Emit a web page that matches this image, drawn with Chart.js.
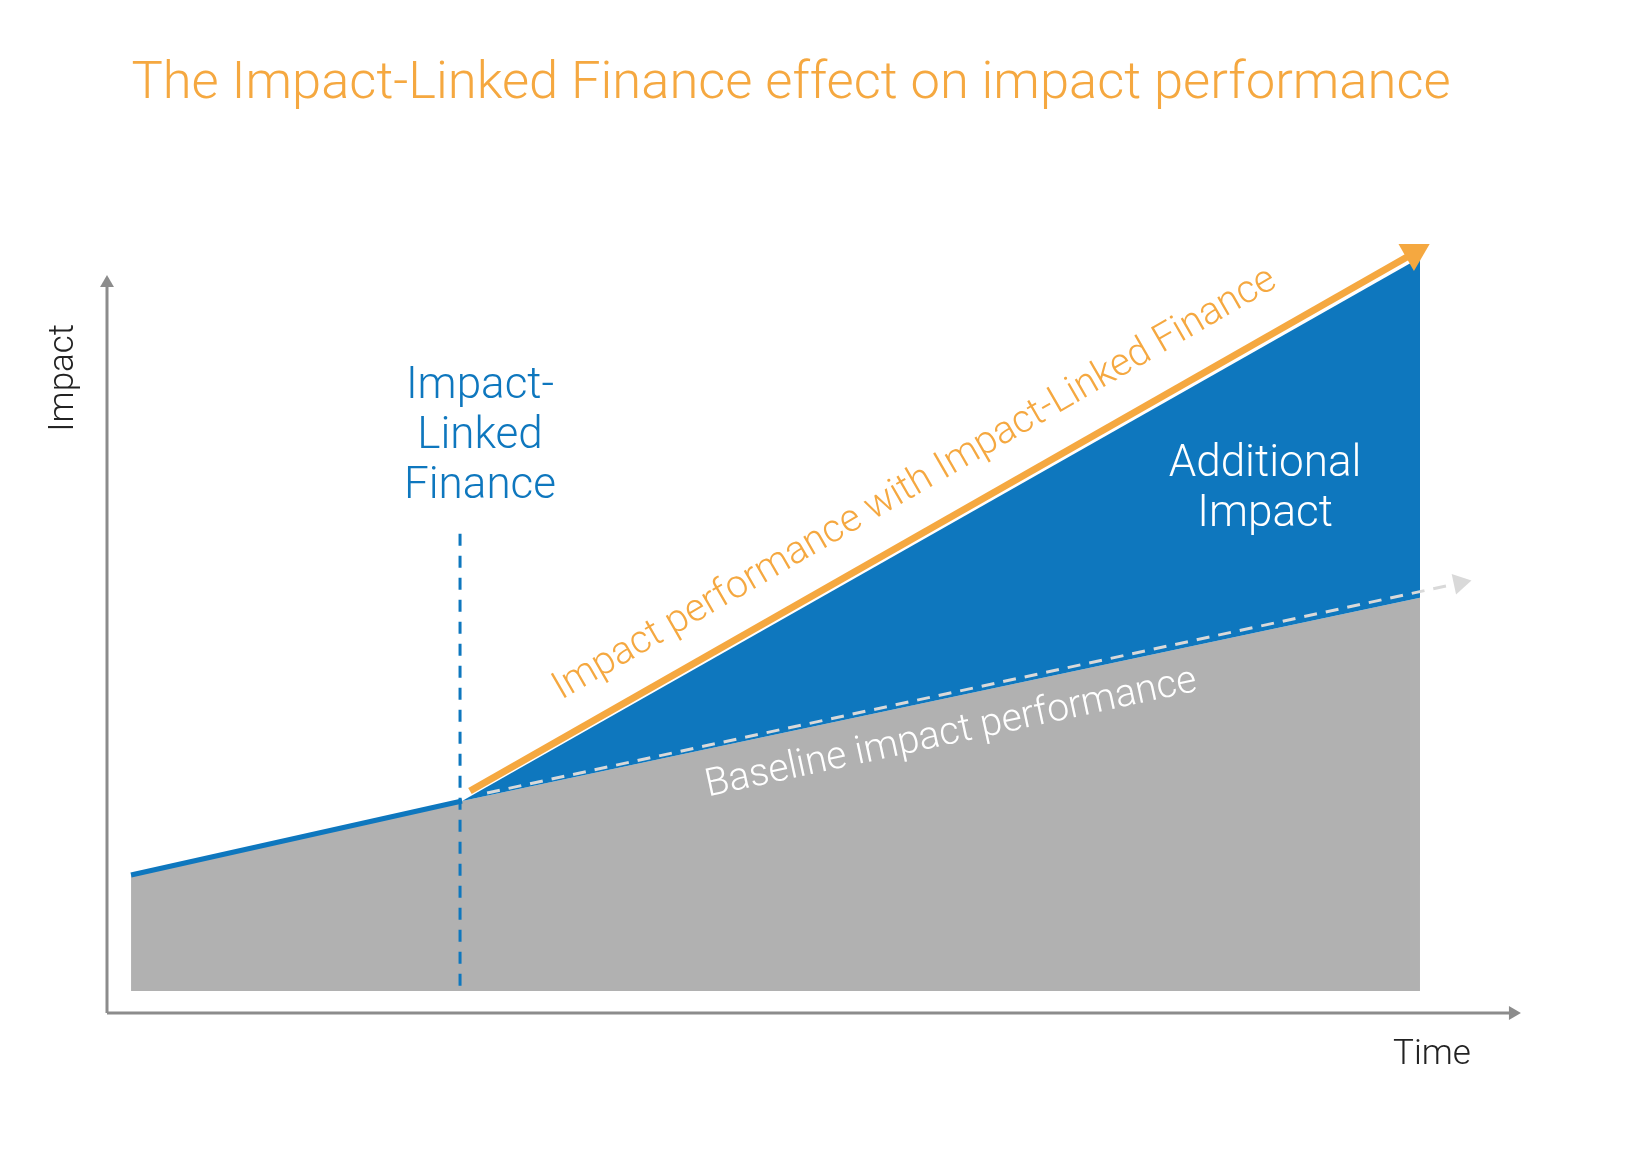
<!DOCTYPE html>
<html>
<head>
<meta charset="utf-8">
<script src="https://cdn.jsdelivr.net/npm/chart.js@4.4.1/dist/chart.umd.min.js"></script>
<style>
  html, body { margin: 0; padding: 0; background: #fff; }
  #wrap { width: 1633px; height: 1158px; position: relative; }
</style>
</head>
<body>
<div id="wrap"><canvas id="chart" width="1633" height="1158"></canvas></div>
<script>
/* ============================================================
   ILF EFFECT DIAGRAM  (time on x, impact on y, 0..100 both)
   ============================================================ */

// baseline impact before/after the finance kicks in
const baseTime   = [1.7, 25.09, 92.79];
const baseImpact = [17.25, 26.5, 51.9];
const baseFloor  = 2.75;

// additional impact wedge (top edge)
const addTime   = [25.09, 92.79];
const addImpact = [26.5, 94.4];

// orange trajectory with ILF
const ilfTime   = [25.65, 92.37];
const ilfImpact = [27.75, 95.0];

// dashed baseline continuation
const trendTime   = [26.86, 95.6];
const trendImpact = [27.5, 53.75];

// moment the finance starts
const startTime   = [24.95, 24.95];
const startImpact = [59.9, 2.9];

// axes
const axisXTime = [0, 99.36], axisXImpact = [0, 0];
const axisYTime = [0, 0],     axisYImpact = [0, 91.25];

const FONT = 'Roboto, Inter, sans-serif';
const C = {
  orange: '#f5a840',
  blue:   '#0e77be',
  grey:   '#b1b1b1',
  axis:   '#8c8c8c',
  trend:  '#d9d9d9',
  text:   '#222222',
};

const pts = (xs, ys) => xs.map((x, i) => ({ x, y: ys[i] }));
// arrow head only on the last point
const lastOnly = (n, v) => Array.from({ length: n }, (_, i) => i === n - 1 ? v : 0);

// text placed in data units
const notes = [
  { lines: ['Impact-', 'Linked', 'Finance'], x: 26.36, y: 76.875, size: 44, color: C.blue, lh: 50 },
  { lines: ['Additional', 'Impact'], x: 81.84, y: 67.125, size: 44, color: '#ffffff', lh: 50 },
  { lines: ['Impact performance with Impact-Linked Finance'], x: 57.45, y: 65.0, size: 39, color: C.orange, rot: -30 },
  { lines: ['Baseline impact performance'], x: 59.8, y: 33.7, size: 39, color: '#ffffff', rot: -12.2 },
  { lines: ['Impact'], x: -2.4, y: 79.4, size: 35, color: C.text, rot: -90 },
  { lines: ['Time'], x: 93.64, y: -6.4, size: 35, color: C.text },
];

const textPlugin = {
  id: 'notes',
  afterDatasetsDraw(chart) {
    const { ctx, scales: { x, y } } = chart;
    ctx.save();
    // title
    ctx.font = `300 52.5px ${FONT}`;
    ctx.fillStyle = C.orange;
    ctx.textAlign = 'center';
    ctx.textBaseline = 'alphabetic';
    ctx.fillText('The Impact-Linked Finance effect on impact performance', 791, 98);

    notes.forEach(n => {
      ctx.save();
      ctx.translate(x.getPixelForValue(n.x), y.getPixelForValue(n.y));
      if (n.rot) ctx.rotate(n.rot * Math.PI / 180);
      ctx.font = `300 ${n.size}px ${FONT}`;
      ctx.fillStyle = n.color;
      ctx.textAlign = 'center';
      ctx.textBaseline = 'alphabetic';
      n.lines.forEach((l, i) => ctx.fillText(l, 0, i * (n.lh || 0)));
      ctx.restore();
    });
    ctx.restore();
  }
};

new Chart(document.getElementById('chart').getContext('2d'), {
  type: 'line',
  data: {
    datasets: [
      { // grey baseline area
        data: pts(baseTime, baseImpact),
        borderWidth: 0, pointRadius: 0,
        backgroundColor: C.grey,
        fill: { value: baseFloor },
        order: 9,
      },
      { // blue additional area
        data: pts(addTime, addImpact),
        borderWidth: 0, pointRadius: 0,
        backgroundColor: C.blue,
        fill: 0,
        order: 8,
      },
      { // blue line up to the ILF start
        data: pts(baseTime.slice(0, 2), baseImpact.slice(0, 2)),
        borderColor: C.blue, borderWidth: 5, pointRadius: 0,
        fill: false, order: 6,
      },
      { // dashed baseline trend
        data: pts(trendTime, trendImpact),
        borderColor: C.trend, borderWidth: 3, borderDash: [13, 9],
        pointStyle: 'triangle',
        pointRadius: lastOnly(2, 12),
        rotation: lastOnly(2, 77.8),
        pointBackgroundColor: C.trend, pointBorderWidth: 0,
        fill: false, order: 7,
      },
      { // vertical dashed marker
        data: pts(startTime, startImpact),
        borderColor: C.blue, borderWidth: 3, borderDash: [12, 10],
        pointRadius: 0, fill: false, order: 5,
      },
      { // orange ILF line
        data: pts(ilfTime, ilfImpact),
        borderColor: C.orange, borderWidth: 7,
        pointStyle: 'triangle',
        pointRadius: lastOnly(2, 18),
        rotation: lastOnly(2, 60.3),
        pointBackgroundColor: C.orange, pointBorderWidth: 0,
        fill: false, order: 4,
      },
      { // x axis
        data: pts(axisXTime, axisXImpact),
        borderColor: C.axis, borderWidth: 3,
        pointStyle: 'triangle',
        pointRadius: lastOnly(2, 8),
        rotation: lastOnly(2, 90),
        pointBackgroundColor: C.axis, pointBorderWidth: 0,
        fill: false, order: 3,
      },
      { // y axis
        data: pts(axisYTime, axisYImpact),
        borderColor: C.axis, borderWidth: 3,
        pointStyle: 'triangle',
        pointRadius: lastOnly(2, 8),
        rotation: 0,
        pointBackgroundColor: C.axis, pointBorderWidth: 0,
        fill: false, order: 2,
      },
    ]
  },
  options: {
    responsive: false,
    animation: false,
    clip: false,
    layout: { padding: { left: 107, right: 111, top: 213, bottom: 145 } },
    plugins: { legend: { display: false }, tooltip: { enabled: false }, title: { display: false } },
    elements: { line: { tension: 0, borderCapStyle: 'butt' }, point: { hoverRadius: 0 } },
    scales: {
      x: { type: 'linear', min: 0, max: 100, display: false },
      y: { type: 'linear', min: 0, max: 100, display: false }
    }
  },
  plugins: [textPlugin]
});
</script>
</body>
</html>
